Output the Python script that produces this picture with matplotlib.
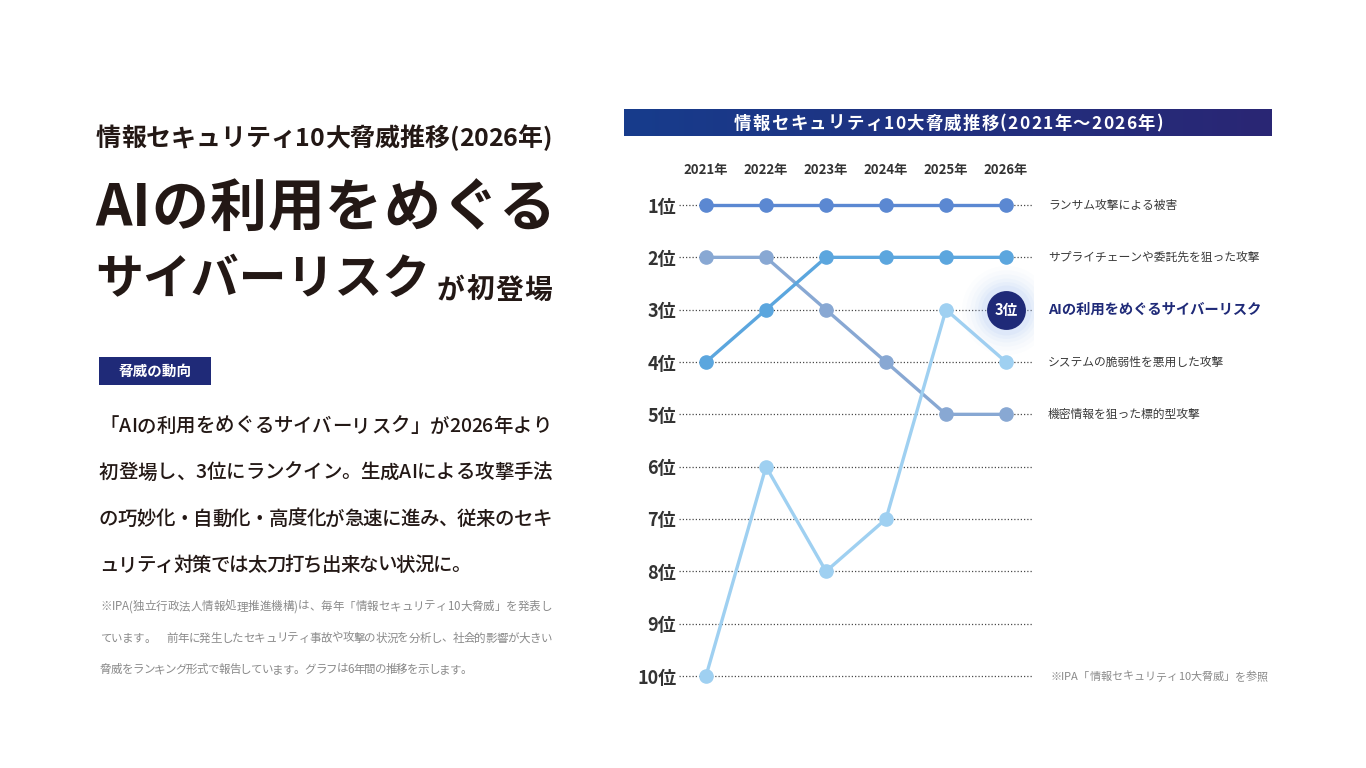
import numpy as np
import matplotlib
matplotlib.use("Agg")
import matplotlib.pyplot as plt
from matplotlib.patches import Rectangle
from matplotlib.colors import LinearSegmentedColormap

plt.rcParams['font.family'] = ['Noto Sans CJK JP', 'DejaVu Sans']

# ---------------- data ----------------
years = ["2021年", "2022年", "2023年", "2024年", "2025年", "2026年"]
rank_labels = ["1位", "2位", "3位", "4位", "5位", "6位", "7位", "8位", "9位", "10位"]
ransomware = [1, 1, 1, 1, 1, 1]
supply_chain = [4, 3, 2, 2, 2, 2]
vulnerability = [10, 6, 8, 7, 3, 4]
targeted = [2, 2, 3, 4, 5, 5]
ai_rank_2026 = 3

name_ransomware = "ランサム攻撃による被害"
name_supply = "サプライチェーンや委託先を狙った攻撃"
name_ai = "AIの利用をめぐるサイバーリスク"
name_vuln = "システムの脆弱性を悪用した攻撃"
name_targeted = "機密情報を狙った標的型攻撃"

banner_title = "情報セキュリティ10大脅威推移(2021年～2026年)"
headline_sub = "情報セキュリティ10大脅威推移(2026年)"
headline_1 = "AIの利用をめぐる"
headline_2 = "サイバーリスク"
headline_3 = "が初登場"
tag_text = "脅威の動向"
para = ["「AIの利用をめぐるサイバーリスク」が2026年より",
        "初登場し、3位にランクイン。生成AIによる攻撃手法",
        "の巧妙化・自動化・高度化が急速に進み、従来のセキ",
        "ュリティ対策では太刀打ち出来ない状況に。"]
notes = ["※IPA(独立行政法人情報処理推進機構)は、毎年「情報セキュリティ10大脅威」を発表し",
         "ています。　前年に発生したセキュリティ事故や攻撃の状況を分析し、社会的影響が大きい",
         "脅威をランキング形式で報告しています。グラフは6年間の推移を示します。"]
source_note = "※IPA「情報セキュリティ10大脅威」を参照"

# ---------------- figure ----------------
W, H = 1366, 768
fig = plt.figure(figsize=(W / 100, H / 100), dpi=100)
fig.patch.set_facecolor("white")
renderer = fig.canvas.get_renderer()

ov = fig.add_axes([0, 0, 1, 1], zorder=0)
ov.set_xlim(0, W)
ov.set_ylim(H, 0)
ov.axis("off")

dark = "#231815"
navy = "#1f2a78"


def ink_width(s, **kw):
    t = ov.text(0, 0, s, **kw)
    w = t.get_window_extent(renderer).width
    t.remove()
    return w


def tracked(x0, yc, s, target=None, tracking=0.0, **kw):
    """Place a string char by char, each char's right edge at the prefix's right edge,
    spread evenly to a target pixel width."""
    fs_px = kw["fontsize"] * 100 / 72
    ends = [ink_width(s[:i + 1], **kw) for i in range(len(s))]
    if target is not None and len(s) > 1:
        tracking = (target - ends[-1]) / (len(s) - 1)
    yb = yc + 0.36 * fs_px
    for i, c in enumerate(s):
        if c.strip() == "":
            continue
        ov.text(x0 + ends[i] + i * tracking, yb, c, ha="right", va="baseline", **kw)


# left headline
tracked(96, 137, headline_sub, target=456, fontsize=18, fontweight="bold", color=dark)
tracked(95, 205, headline_1, target=461, fontsize=41, fontweight="bold", color=dark)
ov.text(95, 277 + 0.36 * 34.5 * 100 / 72, headline_2, fontsize=34.5, fontweight="bold",
        color=dark, ha="left", va="baseline")
tracked(437, 289, headline_3, target=115, fontsize=20, fontweight="bold", color=dark)

# section tag
ov.add_patch(Rectangle((99, 357), 112, 28, color=navy, lw=0))
ov.text(155, 371, tag_text, fontsize=10.5, fontweight="bold", color="white",
        ha="center", va="center")

para_targets = [453, 453, 453, 372]
for i, line in enumerate(para):
    tracked(99, 425 + i * 46.4, line, target=para_targets[i], fontsize=14,
            fontweight="medium", color=dark)

note_targets = [452, 452, 372]
for i, line in enumerate(notes):
    tracked(100, 606 + i * 31.5, line, target=note_targets[i], fontsize=8.3,
            color="#8a8a8a")

# banner with gradient
grad = np.linspace(0, 1, 256).reshape(1, -1)
cmap = LinearSegmentedColormap.from_list("ban", ["#173c8c", "#2a2674"])
ov.imshow(grad, extent=(624, 1272, 136, 109), aspect="auto", cmap=cmap, zorder=1)
tracked(734, 122.5, banner_title, target=429, fontsize=12.5, fontweight="bold",
        color="white", zorder=2)

tracked(1050, 676, source_note, target=218, fontsize=8, color="#8a8a8a")

# ---------------- chart ----------------
left_px, right_px = 679, 1033
ytop, ybot = 0.7, 10.3
px_per_rank = (676 - 205) / 9
top_px = 205 - (1 - ytop) * px_per_rank
bot_px = 676 + (ybot - 10) * px_per_rank
ax = fig.add_axes([left_px / W, 1 - bot_px / H, (right_px - left_px) / W,
                   (bot_px - top_px) / H], zorder=2)
ax.patch.set_alpha(0)
x = np.arange(len(years))
ax.set_xlim(-27 / 60, (right_px - 706) / 60)
ax.set_ylim(ybot, ytop)

ranks = np.arange(1, 11)
for r in ranks:
    ax.axhline(r, color="#4a4a4a", lw=0.9, ls=(0, (1, 1.6)), zorder=1)

series = [
    (targeted, "#88a8d3"),
    (supply_chain, "#5ba6de"),
    (ransomware, "#5b88d2"),
    (vulnerability, "#9fd0f1"),
]
for vals, col in series:
    ax.plot(x, vals, color=col, lw=2.4, marker="o", ms=9.5, mec=col, mfc=col,
            zorder=3, solid_capstyle="round")

# AI highlight circle with glow
for s, a in [(64, 0.03), (58, 0.04), (52, 0.05), (46, 0.07), (41, 0.09), (36, 0.12)]:
    ax.plot([x[-1]], [ai_rank_2026], marker="o", ms=s, mfc="#a9c4f2", mec="none",
            alpha=a, zorder=4)
ax.plot([x[-1]], [ai_rank_2026], marker="o", ms=28, mfc=navy, mec="none", zorder=5)
ax.text(x[-1], ai_rank_2026, f"{ai_rank_2026}位", color="white", fontsize=10.5,
        fontweight="bold", ha="center", va="center", zorder=6)

ax.set_yticks(ranks)
ax.set_yticklabels(rank_labels, fontsize=13, fontweight="bold", color="#333333")
ax.set_xticks(x)
ax.set_xticklabels(years, fontsize=9.5, fontweight="bold", color="#333333")
ax.xaxis.tick_top()
ax.tick_params(axis="both", length=0)
ax.tick_params(axis="y", pad=2)
ax.tick_params(axis="x", pad=9)
for sp in ax.spines.values():
    sp.set_visible(False)

labels_right = [(ransomware[-1], name_ransomware, False),
                (supply_chain[-1], name_supply, False),
                (ai_rank_2026, name_ai, True),
                (vulnerability[-1], name_vuln, False),
                (targeted[-1], name_targeted, False)]
for r, name, hl in labels_right:
    if hl:
        ax.annotate(name, xy=(1, r), xycoords=("axes fraction", "data"),
                    xytext=(15, 0), textcoords="offset pixels", fontsize=10.3,
                    fontweight="bold", color=navy, va="center", ha="left",
                    annotation_clip=False)
    else:
        ax.annotate(name, xy=(1, r), xycoords=("axes fraction", "data"),
                    xytext=(15, 0), textcoords="offset pixels", fontsize=8.5,
                    color="#3a3a3a", va="center", ha="left", annotation_clip=False)

fig.savefig("out.png", dpi=100, facecolor="white")
